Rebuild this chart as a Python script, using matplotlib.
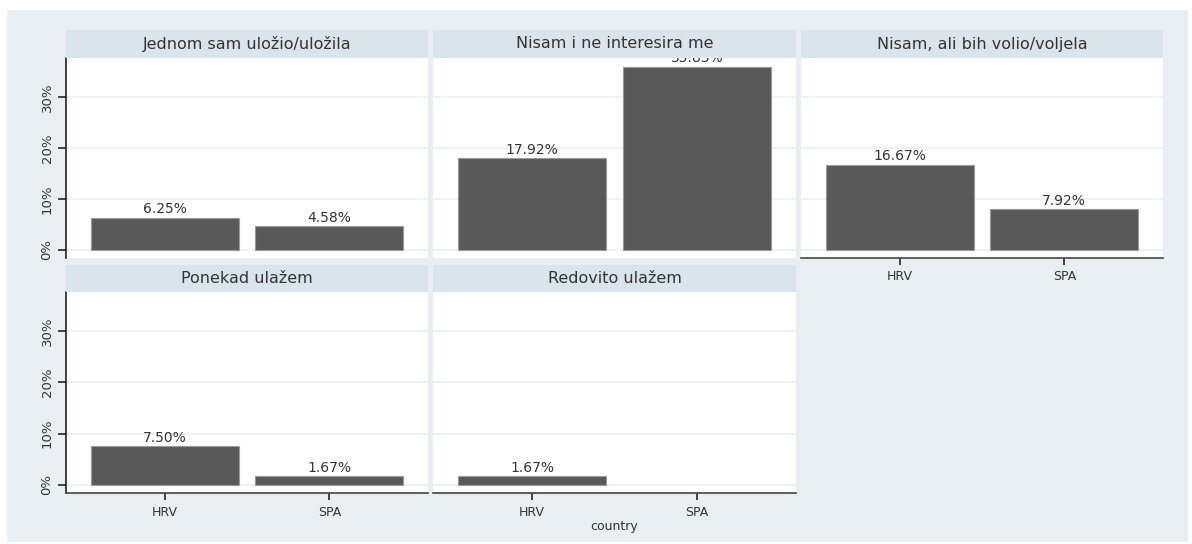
import numpy as np
import matplotlib.pyplot as plt
from matplotlib.patches import Rectangle

plt.rcParams['font.family'] = 'DejaVu Sans'

countries = ["HRV", "SPA"]
panel_titles = ["Jednom sam uložio/uložila", "Nisam i ne interesira me",
                "Nisam, ali bih volio/voljela", "Ponekad ulažem", "Redovito ulažem"]
jednom = [6.25, 4.58]
nisam_ne = [17.92, 35.83]
nisam_ali = [16.67, 7.92]
ponekad = [7.50, 1.67]
redovito = [1.67, 0.0]
panel_values = [jednom, nisam_ne, nisam_ali, ponekad, redovito]
y_ticks = [0, 10, 20, 30]

W, H = 1192, 544
bg = "#e8eef1"
strip_col = "#d9e5eb"
grid_col = "#eaf1f3"
bar_col = "#595959"
txt_col = "#333333"

fig = plt.figure(figsize=(W / 100, H / 100), dpi=100)
fig.patch.set_facecolor("white")
fig.patches.append(Rectangle((7 / W, 1 - 542 / H), 1181 / W, 532 / H,
                             transform=fig.transFigure, facecolor=bg,
                             edgecolor="none", zorder=-10))


def px_axes(x0, y0, x1, y1, **kw):
    return fig.add_axes([x0 / W, 1 - y1 / H, (x1 - x0) / W, (y1 - y0) / H], **kw)


cols = [(66, 428), (433, 796), (801, 1163)]
rows = [((30, 58), (58, 258)), ((265, 292), (292, 493))]
x = np.arange(len(countries))

for i, (title, vals) in enumerate(zip(panel_titles, panel_values)):
    r, c = divmod(i, 3)
    (s0, s1), (p0, p1) = rows[r]
    cx0, cx1 = cols[c]

    ax = px_axes(cx0, p0, cx1, p1)
    ax.set_facecolor("white")
    ax.set_xlim(-0.6, 1.6)
    ax.set_ylim(-1.6, 37.6)
    for yt in y_ticks:
        ax.axhline(yt, color=grid_col, lw=1.2, zorder=0)
    edges = ["#9a9a9a" if v > 0 else "none" for v in vals]
    ax.bar(x, vals, width=0.9, color=bar_col, edgecolor=edges,
           linewidth=0.8, zorder=2)
    for xi, v in zip(x, vals):
        if v > 0:
            ax.text(xi, v + 0.3, f"{v:.2f}%", ha="center", va="bottom",
                    fontsize=10, color=txt_col, clip_on=True, zorder=3)

    for side in ["top", "right", "left", "bottom"]:
        ax.spines[side].set_visible(False)

    if c == 0:
        ax.spines["left"].set_visible(True)
        ax.spines["left"].set_color("#222222")
        ax.spines["left"].set_linewidth(1.2)
        ax.set_yticks(y_ticks)
        ax.set_yticklabels([f"{t}%" for t in y_ticks], rotation=90,
                           va="center", fontsize=9.5, color=txt_col)
        ax.tick_params(axis="y", length=6, width=1.2, color="#222222", pad=3)
    else:
        ax.set_yticks([])

    has_xaxis = (r == 1) or (c == 2)
    if has_xaxis:
        ax.spines["bottom"].set_visible(True)
        ax.spines["bottom"].set_color("#444444")
        ax.spines["bottom"].set_linewidth(1.2)
        ax.set_xticks(x)
        ax.set_xticklabels(countries, fontsize=9, color=txt_col)
        ax.tick_params(axis="x", length=5, width=1.2, color="#222222", pad=4)
    else:
        ax.set_xticks([])

    if i == 4:
        ax.set_xlabel("country", fontsize=9, color=txt_col, labelpad=1)

    sax = px_axes(cx0, s0, cx1, s1)
    sax.set_facecolor(strip_col)
    sax.set_xticks([])
    sax.set_yticks([])
    for sp in sax.spines.values():
        sp.set_visible(False)
    sax.text(0.5, 0.5, title, ha="center", va="center", fontsize=11.5,
             color=txt_col, transform=sax.transAxes)

plt.savefig("out.png", dpi=100, facecolor=fig.get_facecolor())
